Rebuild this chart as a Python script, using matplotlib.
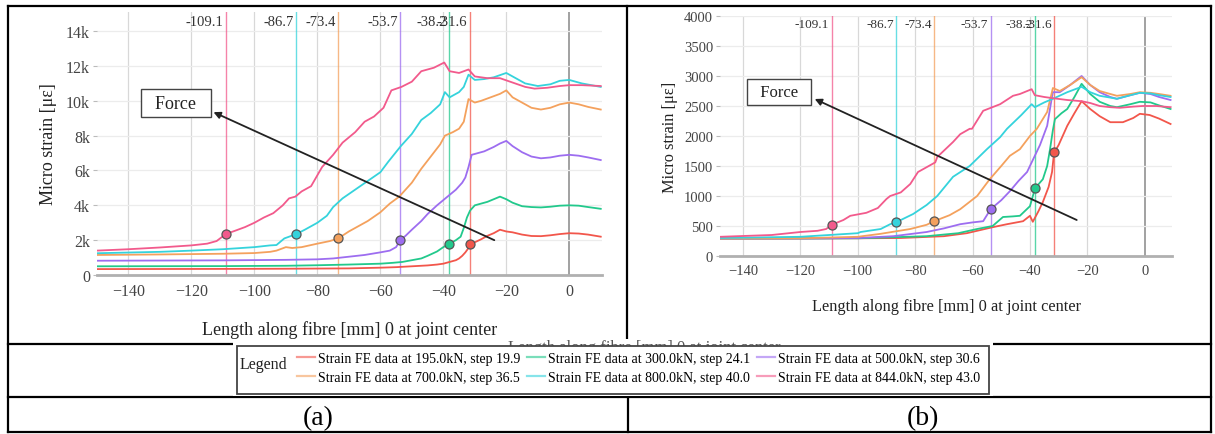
import numpy as np
import matplotlib
matplotlib.use("Agg")
import matplotlib.pyplot as plt
from matplotlib.lines import Line2D
from matplotlib.patches import Rectangle
from matplotlib.ticker import FuncFormatter

plt.rcParams['font.family'] = ['Liberation Serif', 'DejaVu Serif']

# ---- data -------------------------------------------------------------
labels = ['Strain FE data at 195.0kN, step 19.9', 'Strain FE data at 300.0kN, step 24.1',
          'Strain FE data at 500.0kN, step 30.6', 'Strain FE data at 700.0kN, step 36.5',
          'Strain FE data at 800.0kN, step 40.0', 'Strain FE data at 844.0kN, step 43.0']
colors = ['#f2564b', '#22c98c', '#9d6df0', '#f4a15d', '#35d3dc', '#f25a8c']

# positions of the marker lines (mm)
mark_x = [-31.6, -38.2, -53.7, -73.4, -86.7, -109.1]
mark_lbl = ['-31.6', '-38.2', '-53.7', '-73.4', '-86.7', '-109.1']
mark_y_a = [1780, 1780, 2000, 2100, 2350, 2350]
mark_y_b = [1730, 1130, 780, 580, 560, 520]

# panel (a)
a_195_x = [-150, -130, -110, -90, -70, -60, -55, -50, -45, -42, -40, -38, -36, -35, -34, -33, -32, -31.6,
           -30, -28, -26, -24, -22, -20, -18, -15, -12, -9, -6, -3, 0, 3, 6, 10]
a_195_y = [340, 345, 350, 360, 380, 420, 450, 500, 550, 600, 650, 750, 850, 950, 1100, 1300, 1550, 1700,
           1880, 2050, 2250, 2400, 2600, 2500, 2450, 2320, 2240, 2230, 2280, 2350, 2400, 2380, 2320, 2200]
a_300_x = [-150, -130, -110, -90, -80, -70, -60, -56, -53, -50, -47, -45, -42, -40, -38.2, -36, -34.5,
           -33.5, -32.5, -31.5, -30, -28, -26, -24, -22, -20, -18, -15, -12, -9, -6, -3, 0, 3, 6, 10]
a_300_y = [500, 505, 510, 530, 560, 600, 650, 700, 750, 850, 950, 1100, 1350, 1600, 1780, 2000, 2200,
           2700, 3300, 3700, 4000, 4100, 4200, 4350, 4500, 4350, 4150, 3950, 3900, 3880, 3920, 3980, 4000,
           3980, 3900, 3800]
a_500_x = [-150, -130, -110, -90, -80, -75, -70, -65, -60, -57, -55, -53.7, -52, -50, -47, -45, -42, -40,
           -38, -36, -34, -33, -32, -31, -29, -27, -24, -22, -20, -18, -15, -12, -9, -6, -3, 0, 3, 6, 10]
a_500_y = [820, 830, 840, 870, 900, 950, 1050, 1150, 1300, 1400, 1600, 2000, 2250, 2600, 3100, 3500, 4000,
           4300, 4600, 4900, 5300, 5600, 6200, 6900, 7000, 7100, 7350, 7550, 7700, 7400, 7050, 6800, 6700,
           6750, 6850, 6900, 6850, 6750, 6600]
a_700_x = [-150, -130, -110, -100, -95, -93, -90, -88, -85, -80, -76, -73.4, -70, -67, -64, -60, -57, -54,
           -50, -47, -44, -41, -39.5, -37, -35, -33.5, -32, -30, -28, -25, -22, -20, -18, -15, -12, -9, -6,
           -3, 0, 3, 6, 10]
a_700_y = [1150, 1180, 1220, 1260, 1330, 1400, 1600, 1550, 1600, 1800, 1950, 2100, 2500, 2800, 3100, 3600,
           4100, 4500, 5300, 6100, 6800, 7500, 8000, 8200, 8400, 8800, 10100, 9900, 10000, 10200, 10400,
           10600, 10200, 9900, 9600, 9500, 9600, 9800, 9900, 9800, 9650, 9500]
a_800_x = [-150, -130, -120, -110, -100, -95, -93, -90.5, -86.7, -84, -80, -77, -75, -72, -68, -64, -60,
           -57.5, -53.5, -50, -47, -44, -41, -39.5, -38, -35, -33.5, -32, -30, -27, -24, -20, -17, -14, -10,
           -6, -3, 0, 4, 10]
a_800_y = [1250, 1330, 1400, 1480, 1600, 1700, 1720, 2100, 2350, 2600, 3000, 3400, 3900, 4400, 4900, 5400,
           5900, 6500, 7400, 8100, 8900, 9300, 9800, 10500, 10200, 10500, 10800, 11500, 11200, 11250, 11350,
           11600, 11300, 11000, 10850, 10950, 11150, 11200, 11000, 10800]
a_844_x = [-150, -140, -130, -120, -115, -112, -109.1, -106, -103, -100, -97, -94, -91, -89, -87, -85, -82,
           -78.5, -75, -72, -68, -65, -62, -59, -56.5, -53.3, -50, -47, -43, -39.7, -38, -35, -32, -30, -26,
           -22, -18, -14, -11, -7, -3, 0, 4, 10]
a_844_y = [1400, 1480, 1580, 1700, 1800, 1950, 2350, 2550, 2750, 3000, 3300, 3550, 4000, 4400, 4500, 4800,
           5100, 6200, 6900, 7600, 8200, 8800, 9100, 9600, 10600, 10800, 11100, 11700, 11900, 12200, 11700,
           11600, 11800, 11400, 11300, 11300, 11050, 10800, 10700, 10750, 10850, 10900, 10900, 10850]

# panel (b)
b_195_x = [-148, -120, -100, -85, -70, -62, -58.4, -53, -48, -42.4, -40, -39, -37, -35.5, -33.5, -32.3,
           -31.6, -30, -27, -24.5, -22, -19, -15.7, -12, -7.6, -4, -1.7, 1.7, 5, 9]
b_195_y = [290, 292, 295, 300, 330, 380, 420, 480, 530, 580, 670, 570, 750, 900, 1150, 1400, 1720, 1850,
           2170, 2380, 2580, 2450, 2330, 2230, 2230, 2300, 2370, 2350, 2290, 2200]
b_300_x = [-148, -120, -100, -76, -65, -58.4, -53, -49.4, -46, -43.5, -40, -38.2, -35.5, -34, -33, -32,
           -31.3, -29, -27, -24.5, -22, -19, -15.7, -12, -9.7, -5, -1.7, 2, 5, 9]
b_300_y = [290, 292, 295, 330, 380, 450, 500, 650, 660, 670, 830, 1130, 1280, 1500, 1780, 2100, 2280, 2380,
           2450, 2650, 2870, 2700, 2570, 2500, 2480, 2530, 2570, 2560, 2510, 2450]
b_500_x = [-148, -120, -100, -87.6, -76, -70, -64.3, -60, -56.3, -53.7, -50, -47, -44, -41, -38, -36.5,
           -34, -32.5, -32, -29.6, -26, -22, -19, -15.7, -12, -9.7, -5, -1.7, 2, 5, 9]
b_500_y = [290, 292, 300, 330, 400, 460, 530, 560, 580, 780, 930, 1080, 1250, 1400, 1700, 1850, 2170, 2600,
           2730, 2730, 2850, 3000, 2850, 2730, 2650, 2620, 2680, 2720, 2700, 2650, 2600]
b_700_x = [-148, -120, -100, -92, -81.7, -76, -73.4, -68, -64.3, -58.4, -54, -50, -47, -43.5, -40, -37.6,
           -34, -32, -29.6, -26, -22, -19, -15.7, -12, -9.7, -5, -1.7, 2, 5, 9]
b_700_y = [290, 295, 320, 370, 450, 520, 580, 680, 780, 1000, 1280, 1500, 1670, 1780, 2000, 2120, 2400,
           2800, 2750, 2850, 2980, 2850, 2750, 2700, 2670, 2700, 2730, 2720, 2700, 2670]
b_800_x = [-148, -120, -100, -99, -92, -88.7, -86.7, -80.7, -76, -72.3, -66.8, -61, -55, -50.4, -48, -43,
           -39.4, -38.3, -35, -32, -27, -22, -19, -15.7, -12, -9.7, -5, -1.7, 2, 5, 9]
b_800_y = [300, 320, 380, 400, 450, 530, 560, 700, 850, 1000, 1320, 1500, 1780, 1980, 2120, 2350, 2530,
           2480, 2560, 2620, 2730, 2820, 2730, 2670, 2640, 2620, 2680, 2720, 2710, 2680, 2650]
b_844_x = [-148, -130, -120, -114, -111, -109.1, -105, -102.6, -97, -93, -90, -88.7, -85, -81.7, -79, -76,
           -73, -72.3, -66.8, -64.3, -61, -60.2, -56.3, -50.4, -45.9, -43.5, -39.4, -38.3, -35, -32, -27,
           -22, -19, -15.7, -12, -8.7, -4, -0.7, 4, 9]
b_844_y = [320, 350, 400, 420, 450, 520, 600, 670, 720, 800, 950, 1000, 1060, 1200, 1400, 1480, 1560, 1650,
           1900, 2030, 2120, 2120, 2420, 2530, 2670, 2700, 2780, 2680, 2650, 2630, 2600, 2580, 2550, 2500,
           2480, 2470, 2490, 2500, 2500, 2480]

series_a = [(a_195_x, a_195_y), (a_300_x, a_300_y), (a_500_x, a_500_y),
            (a_700_x, a_700_y), (a_800_x, a_800_y), (a_844_x, a_844_y)]
series_b = [(b_195_x, b_195_y), (b_300_x, b_300_y), (b_500_x, b_500_y),
            (b_700_x, b_700_y), (b_800_x, b_800_y), (b_844_x, b_844_y)]

W, H = 1215, 435
def fx(px):
    return px / W
def fy(py):
    return 1 - py / H

fig = plt.figure(figsize=(W / 100, H / 100), dpi=100)


def draw_panel(ax, series, mark_y, xlim, ylim, yticks, fmt, fs, lab_fs, lbl_y, force_box, force_tip, force_tail):
    ax.set_xlim(*xlim)
    ax.set_ylim(*ylim)
    for s in ['top', 'right', 'left']:
        ax.spines[s].set_visible(False)
    ax.spines['bottom'].set_color('#b0b0b0')
    ax.spines['bottom'].set_linewidth(2)
    ax.set_xticks([-140, -120, -100, -80, -60, -40, -20, 0])
    ax.set_yticks(yticks)
    ax.yaxis.set_major_formatter(FuncFormatter(fmt))
    ax.tick_params(axis='x', length=0, pad=6, labelsize=fs, labelcolor='#444')
    ax.tick_params(axis='y', length=3, width=0.8, color='#bbb', pad=2, labelsize=fs, labelcolor='#444')
    for t in [-140, -120, -100, -80, -60, -40, -20]:
        ax.axvline(t, color='#d8d8d8', lw=0.9, zorder=0)
    ax.axvline(0, color='#9a9a9a', lw=1.3, zorder=0)
    for t in yticks[1:]:
        ax.axhline(t, color='#ececec', lw=0.9, zorder=0)
    for (x, y), c in zip(series, colors):
        ax.plot(x, y, color=c, lw=1.3, zorder=3)
    for mx, my, ml, c in zip(mark_x, mark_y, mark_lbl, colors):
        ax.axvline(mx, color=c, lw=1.0, alpha=0.75, zorder=2)
        ax.plot(mx, my, 'o', ms=6.5, mfc=c, mec='#555', mew=0.9, zorder=5)
        ax.text(mx - 0.8, lbl_y, ml, ha='right', va='center', fontsize=fs - 1, color='#333')
    ax.annotate('', xy=force_tip, xytext=force_tail,
                arrowprops=dict(arrowstyle='-|>', color='#222', lw=1.3, mutation_scale=10,
                                shrinkA=0, shrinkB=0), zorder=6)
    ax.text(force_box[0], force_box[1], '  Force  ', ha='center', va='center', fontsize=fs + 1.5,
            color='#222', bbox=dict(boxstyle='square,pad=0.3', fc='white', ec='#444', lw=1.0), zorder=6)
    ax.set_ylabel('Micro strain [\u03bc\u03b5]', fontsize=lab_fs, color='#222')
    ax.set_xlabel('Length along fibre [mm] 0 at joint center', fontsize=lab_fs, color='#222')


# panel (a)
ax_a = fig.add_axes([fx(97), fy(276), fx(602) - fx(97), (276 - 13) / H])
draw_panel(ax_a, series_a, mark_y_a, (-150, 10.4), (0, 15100), list(range(0, 14001, 2000)),
           lambda v, p: '0' if v == 0 else '%dk' % (v / 1000), 11.5, 13, 14550,
           (-125, 9870), (-113, 9350), (-23.8, 2000))
ax_a.yaxis.set_label_coords((57 - 97) / 505, 0.5)
ax_a.xaxis.set_label_coords(0.5, (276 - 321) / 263)

# panel (b)
ax_b = fig.add_axes([fx(720), fy(257), fx(1172) - fx(720), (257 - 17) / H])
draw_panel(ax_b, series_b, mark_y_b, (-148, 9.5), (0, 4000), list(range(0, 4001, 500)),
           lambda v, p: '%d' % v, 10.5, 11.8, 3870,
           (-127.4, 2733), (-115, 2617), (-23.7, 600))
ax_b.yaxis.set_label_coords((678 - 720) / 452, 0.5)
ax_b.xaxis.set_label_coords(0.5, (257 - 299) / 240)

# ---- table frame ------------------------------------------------------
def hline(y, x0, x1, lw=1.6):
    fig.add_artist(Line2D([fx(x0), fx(x1)], [fy(y), fy(y)], color='black', lw=lw, zorder=1))
def vline(x, y0, y1, lw=1.6):
    fig.add_artist(Line2D([fx(x), fx(x)], [fy(y0), fy(y1)], color='black', lw=lw, zorder=1))

hline(7, 8, 1211)
hline(345, 8, 1211)
hline(398, 8, 1211)
hline(433, 8, 1211)
vline(8, 7, 433)
vline(1211, 7, 433)
vline(627, 7, 345)
vline(628, 398, 433)

# pasted legend image covers the row line
fig.add_artist(Rectangle((fx(233), fy(397)), fx(993) - fx(233), (397 - 340) / H,
                         transform=fig.transFigure, fc='white', ec='none', zorder=2))
fig.text(fx(644), fy(352), 'Length along fibre [mm] 0 at joint center', ha='center', va='baseline',
         fontsize=12, color='#555', zorder=2.5)
fig.add_artist(Rectangle((fx(237), fy(395)), fx(989) - fx(237), (395 - 347) / H,
                         transform=fig.transFigure, fc='white', ec='#444', lw=1.3, zorder=3))
fig.text(fx(240), fy(365), 'Legend', ha='left', va='center', fontsize=11.5, color='#222', zorder=4)

order = [0, 3, 1, 4, 2, 5]
handles = [Line2D([], [], color=colors[i], lw=1.6, alpha=0.6) for i in order]
fig.legend(handles, [labels[i] for i in order], loc='upper left', bbox_to_anchor=(fx(297), fy(353)),
           ncol=3, frameon=False, fontsize=10, handlelength=1.3, handletextpad=0.2,
           columnspacing=0.5, labelspacing=0.4, borderaxespad=0, borderpad=0)

fig.text(fx(318), fy(419), '(a)', ha='center', va='center', fontsize=20)
fig.text(fx(923), fy(419), '(b)', ha='center', va='center', fontsize=20)

fig.savefig('out.png', dpi=100)
